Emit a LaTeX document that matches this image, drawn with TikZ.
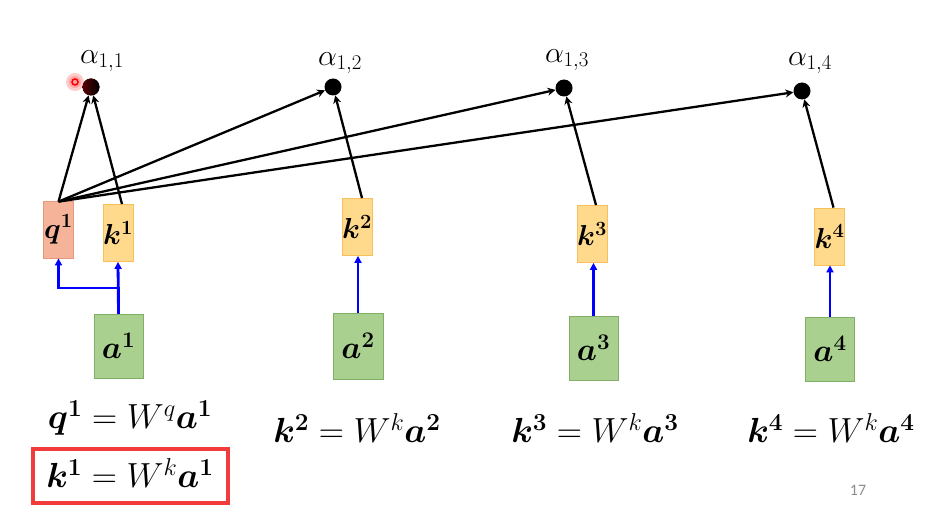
\RequirePackage{fix-cm}
\documentclass[tikz,border=0pt]{standalone}
\usepackage{amsmath}
\usepackage{bm}
\usepackage{fontspec}
\newfontfamily\pagenumfont{Carlito}
\usetikzlibrary{arrows.meta,calc}
\definecolor{qfill}{HTML}{F5B49A}
\definecolor{qdraw}{HTML}{E8987A}
\definecolor{kfill}{HTML}{FFD98C}
\definecolor{kdraw}{HTML}{F8C05A}
\definecolor{afill}{HTML}{A9D08E}
\definecolor{adraw}{HTML}{80B066}
\definecolor{redbox}{HTML}{F03C3C}
\definecolor{numgray}{HTML}{8C8C8C}
\begin{document}
\begin{tikzpicture}[x=1bp,y=-1bp,
  vecbox/.style={minimum width=30bp,minimum height=57bp,inner sep=0pt,line width=0.8bp,font=\fontsize{29}{32}\selectfont},
  qbox/.style={vecbox,fill=qfill,draw=qdraw},
  kbox/.style={vecbox,fill=kfill,draw=kdraw},
  abox/.style={vecbox,fill=afill,draw=adraw,minimum width=49bp,minimum height=64bp,font=\fontsize{32}{36}\selectfont},
  dot/.style={circle,fill=black,minimum size=17bp,inner sep=0pt},
  alab/.style={font=\fontsize{30}{34}\selectfont,inner sep=0pt},
  eq/.style={font=\fontsize{35}{40}\selectfont,inner sep=0pt},
  bk/.style={-{Stealth[length=8bp,width=8bp]},line width=2.3bp,black},
  bl/.style={-{Triangle[length=7bp,width=7bp]},line width=2.8bp,blue},
]
\useasboundingbox (0,0) rectangle (935,506);
% dots
\node[dot,left color=red!35!black,right color=black] (d1) at (91,87) {};
\node[dot] (d2) at (333,87) {};
\node[dot] (d3) at (564,88) {};
\node[dot] (d4) at (802,91) {};
\node[alab] (l1) at (102,61) {$\alpha_{1,1}$};
\node[alab] (l2) at (340,63) {$\alpha_{1,2}$};
\node[alab] (l3) at (567,60) {$\alpha_{1,3}$};
\node[alab] (l4) at (810,63) {$\alpha_{1,4}$};
% laser pointer
\fill[red,opacity=0.2] (75,82) circle (9);
\fill[red,opacity=0.2] (75,82) circle (6);
\draw[red,line width=1.5bp] (75,82) circle (3);
% boxes
\node[qbox] (q1) at (58.5,229.5) {$\bm{q}^{\bm{1}}$};
\node[kbox] (k1) at (118,233) {$\bm{k}^{\bm{1}}$};
\node[kbox] (k2) at (357,227) {$\bm{k}^{\bm{2}}$};
\node[kbox] (k3) at (592,234) {$\bm{k}^{\bm{3}}$};
\node[kbox] (k4) at (829.5,236.5) {$\bm{k}^{\bm{4}}$};
\node[abox] (a1) at (118.5,346) {$\bm{a}^{\bm{1}}$};
\node[abox,minimum height=66bp,minimum width=50bp] (a2) at (358,346) {$\bm{a}^{\bm{2}}$};
\node[abox] (a3) at (593.5,348) {$\bm{a}^{\bm{3}}$};
\node[abox] (a4) at (830,349) {$\bm{a}^{\bm{4}}$};
% black arrows
\coordinate (qs) at ($(q1.north)+(0,1)$);
\draw[bk] (qs) -- (d1);
\draw[bk] (qs) -- (d2);
\draw[bk] (qs) -- (d3);
\draw[bk] (qs) -- (d4);
\draw[bk] ($(k1.north)+(4,0)$) -- (d1);
\draw[bk] ($(k2.north)+(5,0)$) -- (d2);
\draw[bk] ($(k3.north)+(4,0)$) -- (d3);
\draw[bk] ($(k4.north)+(4,0)$) -- (d4);
% blue arrows
\coordinate (br) at (a1.north |- 0,288);
\draw[bl] (a1.north) -- (k1.south);
\draw[bl] (a1.north) -- (br) -| (q1.south);
\draw[bl] (a2.north) -- (a2.north |- k2.south);
\draw[bl] (a3.north) -- (a3.north |- k3.south);
\draw[bl] (a4.north) -- (a4.north |- k4.south);
% equations
\node[eq] (e1) at (130,418) {$\bm{q}^{\bm{1}}=W^{q}\bm{a}^{\bm{1}}$};
\node[eq] (e2) at (357,428) {$\bm{k}^{\bm{2}}=W^{k}\bm{a}^{\bm{2}}$};
\node[eq] (e3) at (595,428) {$\bm{k}^{\bm{3}}=W^{k}\bm{a}^{\bm{3}}$};
\node[eq] (e4) at (831,428) {$\bm{k}^{\bm{4}}=W^{k}\bm{a}^{\bm{4}}$};
\node[eq] (e5) at (130,473) {$\bm{k}^{\bm{1}}=W^{k}\bm{a}^{\bm{1}}$};
\draw[redbox,line width=4bp] (33,449) rectangle (228,503);
\node[font=\fontsize{16}{19}\pagenumfont,text=numgray] (pg) at (858,490) {17};
\end{tikzpicture}
\end{document}
